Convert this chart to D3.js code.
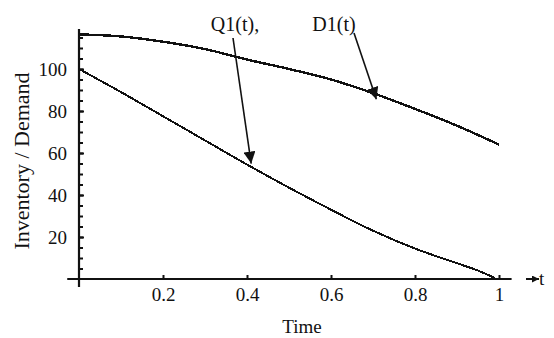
<!DOCTYPE html>
<html>
<head>
<meta charset="utf-8">
<script src="https://cdn.jsdelivr.net/npm/d3@7"></script>
<style>
  html, body { margin: 0; padding: 0; background: #fff; }
  svg { display: block; }
</style>
</head>
<body>
<svg id="chart" width="554" height="338"></svg>
<script>
// Time grid (t) and the two series sampled on it
const timeQ = [0, 0.1, 0.2, 0.3, 0.4, 0.5, 0.6, 0.7, 0.8, 0.9, 0.95, 0.99];
const inventoryQ1 = [100, 89, 77.5, 66, 54.5, 43.5, 33, 23, 14.5, 7.5, 4, 0.5];

const timeD = [0, 0.1, 0.2, 0.3, 0.4, 0.5, 0.6, 0.7, 0.8, 0.9, 1.0];
const demandD1 = [116.5, 115.5, 113, 109.5, 104.5, 100, 95, 88.5, 81, 73, 64];

const xTicks = [0.2, 0.4, 0.6, 0.8, 1];
const yTicks = [20, 40, 60, 80, 100];
const yMinorTicks = d3.range(5, 120, 5);

const SERIF = '"Liberation Serif", "Times New Roman", Times, serif';
const INK = "#111";

const svg = d3.select("#chart").style("font-family", SERIF);

const x = d3.scaleLinear().domain([0, 1]).range([79, 499]);
const y = d3.scaleLinear().domain([0, 120]).range([279, 27]);

// Axis lines (crossing at the origin)
svg.append("line")
  .attr("x1", x(-0.028)).attr("x2", x(1.03))
  .attr("y1", y(0)).attr("y2", y(0))
  .attr("stroke", INK).attr("stroke-width", 2.2);
svg.append("line")
  .attr("x1", x(0)).attr("x2", x(0))
  .attr("y1", y(119)).attr("y2", y(-3.8))
  .attr("stroke", INK).attr("stroke-width", 2.2);

function styleAxis(g) {
  g.attr("font-family", null);
  g.select(".domain").remove();
  g.selectAll("line").attr("stroke", INK).attr("stroke-width", 2);
  g.selectAll("text")
    .style("font-family", SERIF)
    .style("font-size", "19px")
    .attr("fill", INK);
}

// Minor y ticks
svg.append("g")
  .attr("transform", `translate(${x(0)},0)`)
  .call(d3.axisLeft(y).tickValues(yMinorTicks).tickSize(-4).tickFormat(""))
  .call(styleAxis);

// Major y ticks with labels
svg.append("g")
  .attr("transform", `translate(${x(0)},0)`)
  .call(d3.axisLeft(y).tickValues(yTicks).tickSize(-5).tickPadding(12).tickFormat(d3.format("d")))
  .call(styleAxis);

// X ticks with labels
svg.append("g")
  .attr("transform", `translate(0,${y(0)})`)
  .call(d3.axisBottom(x).tickValues(xTicks).tickSize(-4).tickPadding(9)
    .tickFormat(d => d === 1 ? "1" : d3.format(".1f")(d)))
  .call(styleAxis);

// Curves
const line = d3.line().x(d => x(d[0])).y(d => y(d[1])).curve(d3.curveMonotoneX);

svg.append("path")
  .datum(d3.zip(timeD, demandD1))
  .attr("d", line)
  .attr("fill", "none").attr("stroke", INK).attr("stroke-width", 2.4)
  .attr("shape-rendering", "crispEdges");

svg.append("path")
  .datum(d3.zip(timeQ, inventoryQ1))
  .attr("d", line)
  .attr("fill", "none").attr("stroke", INK).attr("stroke-width", 2)
  .attr("shape-rendering", "crispEdges");

// Arrowhead markers
const defs = svg.append("defs");
defs.append("marker")
  .attr("id", "head")
  .attr("viewBox", "0 0 10 10")
  .attr("refX", 10).attr("refY", 5)
  .attr("markerWidth", 12).attr("markerHeight", 12)
  .attr("markerUnits", "userSpaceOnUse")
  .attr("orient", "auto")
  .append("path").attr("d", "M0,0 L10,5 L0,10 Z").attr("fill", INK);
defs.append("marker")
  .attr("id", "smallhead")
  .attr("viewBox", "0 0 10 10")
  .attr("refX", 10).attr("refY", 5)
  .attr("markerWidth", 7).attr("markerHeight", 7)
  .attr("markerUnits", "userSpaceOnUse")
  .attr("orient", "auto")
  .append("path").attr("d", "M0,0 L10,5 L0,10 Z").attr("fill", INK);

// Series annotations
svg.append("text").attr("x", 235).attr("y", 31).attr("text-anchor", "middle")
  .style("font-size", "20px").attr("fill", INK).text("Q1(t),");
svg.append("line")
  .attr("x1", 233).attr("y1", 38).attr("x2", x(0.41)).attr("y2", y(54) - 2)
  .attr("stroke", INK).attr("stroke-width", 1.6).attr("marker-end", "url(#head)");

svg.append("text").attr("x", 334).attr("y", 31).attr("text-anchor", "middle")
  .style("font-size", "20px").attr("fill", INK).text("D1(t)");
svg.append("line")
  .attr("x1", 354).attr("y1", 33).attr("x2", x(0.708)).attr("y2", y(88) + 5)
  .attr("stroke", INK).attr("stroke-width", 1.6).attr("marker-end", "url(#head)");

// Axis-end marker for t
svg.append("line")
  .attr("x1", 526).attr("x2", 539).attr("y1", y(0)).attr("y2", y(0))
  .attr("stroke", INK).attr("stroke-width", 2).attr("marker-end", "url(#smallhead)");
svg.append("text").attr("x", 539).attr("y", y(0) + 6)
  .style("font-size", "19px").attr("fill", INK).text("t");

// Axis titles
svg.append("text").attr("x", 302).attr("y", 333).attr("text-anchor", "middle")
  .style("font-size", "19px").attr("fill", INK).text("Time");
svg.append("text")
  .attr("transform", "translate(29,161) rotate(-90)")
  .attr("text-anchor", "middle")
  .style("font-size", "22px").attr("fill", INK).text("Inventory / Demand");
</script>
</body>
</html>
